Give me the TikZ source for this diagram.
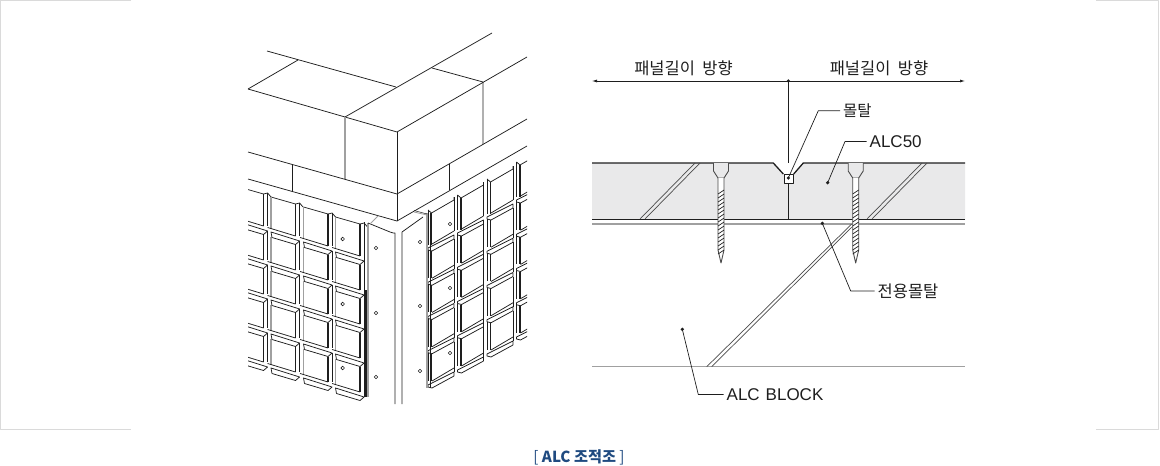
\documentclass[tikz,border=0pt]{standalone}
\usepackage{fontspec}
\setmainfont{Noto Sans CJK KR}
\newfontfamily\latinfont{Liberation Sans}
\usetikzlibrary{arrows.meta, positioning}
\definecolor{inkline}{HTML}{1E1E1E}
\definecolor{greyline}{HTML}{A0A0A0}
\definecolor{framegrey}{HTML}{DADADA}
\definecolor{panelgrey}{HTML}{E9E9EA}
\definecolor{captionblue}{HTML}{1F4A80}
\begin{document}
\begin{tikzpicture}[x=1pt, y=-1pt, line join=round,
                wall/.style={draw=inkline, line width=0.75pt},
                softline/.style={draw=greyline, line width=1.2pt},
                frameline/.style={draw=framegrey, line width=1pt},
                leader/.style={draw=inkline, line width=0.7pt},
                label/.style={inner sep=3pt, anchor=west, text=inkline, font=\fontsize{16.5}{19}\selectfont},
                leftledge/.pic={
                    \draw[wall] (0,0) -- (28.6,9) -- (24.5,12.5) -- (1,5.5) -- cycle;
                    \draw[wall] (-3.4,-4.5) -- (24.5,4);
                },
                leftbody/.pic={
                    \draw[softline] (0,4.5) -- (0,30.8);
                    \draw[wall, line width=1.1pt] (24.5,12.5) -- (24.5,38.3);
                    \draw[wall] (28.6,9) -- (28.6,38);
                },
                lefttop/.pic={
                    \draw[wall] (0,-35) -- (24.5,-28) -- (28.6,-29) -- (32,-25);
                    \draw[softline] (0,-35) -- (0,-3.5);
                    \draw[wall, line width=1.1pt] (24.5,-28) -- (24.5,4);
                    \draw[wall] (28.6,-29) -- (28.6,3.6);
                },
                rightledge/.pic={
                    \draw[wall] (0,0) -- (26,-13) -- (26,-9) -- (4,3) -- (0,2) -- cycle;
                    \draw[wall] (4,-4) -- (26,-17);
                },
                rightbody/.pic={
                    \draw[wall] (0,2) -- (0,30);
                    \draw[wall, line width=1.3pt] (3.5,3) -- (3.5,30);
                    \draw[wall] (26,-9) -- (26,21);
                },
                righttop/.pic={
                    \draw[wall] (0,-38) -- (3.5,-35) -- (26,-48) -- (26,-51);
                    \draw[wall] (0,-38) -- (0,-3);
                    \draw[wall, line width=1.3pt] (3.5,-35) -- (3.5,-3);
                    \draw[wall] (26,-51) -- (26,-17);
                },
                screw/.pic={
                    \draw[inkline!80, line width=0.9pt, fill=panelgrey] (-7.5,163) -- (-7.5,171) -- (-3,178) -- (3,178) -- (7.5,171) -- (7.5,163);
                    \draw[inkline!80, line width=0.9pt, fill=white] (-3,178) -- (-3,250) -- (0,263) -- (3,250) -- (3,178);
                    \foreach \t in {192,196,...,252} {
                        \draw[inkline, line width=0.7pt] (-3,\t+2) -- (3,\t-2);
                    }
                }]
    \useasboundingbox (0,0) rectangle (1160,466);

    % Frame corners
    \draw[frameline] (131,0.5) -- (0.5,0.5) -- (0.5,429.5) -- (131,429.5);
    \draw[frameline] (1096,0.5) -- (1158.5,0.5) -- (1158.5,429.5) -- (1096,429.5);

    % Block courses on top
    \draw[wall] (267,51) -- (396,87);
    \draw[wall] (248,89) -- (298,60);
    \draw[wall] (248,89) -- (397,132);
    \draw[wall] (345,117) -- (492,33);
    \draw[wall] (397,132) -- (527,57);
    \draw[wall] (432,68) -- (483,82) -- (483,144);
    \draw[wall] (397,132) -- (397,221);
    \draw[softline] (345,117) -- (345,179);
    \draw[wall] (248,152) -- (397,194) -- (527,119);
    \draw[wall] (292,164) -- (292,192);
    \draw[wall] (248,179) -- (397,221) -- (527,146);
    \draw[wall] (449,164) -- (449,190);

    % Left wall - tiles
    \begin{scope}
        \clip (248,150) rectangle (369,410);
        \foreach \cx/\cy in {239/222, 271/232, 303.5/242, 335.5/252} {
            \pic at (\cx,\cy) {lefttop};
            \foreach \row in {0,1,2,3} {
                \pic at (\cx,\cy+\row*34) {leftbody};
            }
            \foreach \row in {0,1,2,3,4} {
                \pic at (\cx,\cy+\row*34) {leftledge};
            }
        }
    \end{scope}
    \draw[wall] (364,222) -- (364,397);
    \draw[wall, line width=2pt] (365.5,290) -- (365.5,397);
    \draw[softline, line width=1.4pt] (368,223) -- (368,397);

    % Right wall - tiles
    \begin{scope}
        \clip (420,150) rectangle (527,410);
        \foreach \cx/\cy in {428/248, 457.5/233, 487/217, 516.5/200} {
            \pic at (\cx,\cy) {righttop};
            \foreach \row in {0,1,2,3} {
                \pic at (\cx,\cy+\row*34.25) {rightbody};
            }
            \foreach \row in {0,1,2,3,4} {
                \pic at (\cx,\cy+\row*34.25) {rightledge};
            }
        }
    \end{scope}
    \draw[softline, line width=2pt] (427,213) -- (427,388);
    \draw[wall] (430,213) -- (430,388);

    % Corner post
    \draw[wall] (368,223) -- (390,232) .. controls (392,233) and (394,233) .. (395,233) -- (395,404);
    \draw[wall] (402,404) -- (402,232) -- (423,217);
    \draw[softline, line width=0.8pt] (370,224) -- (378,216);
    \draw[softline, line width=0.8pt] (414,212) -- (427,215);
    \draw[wall, line width=0.5pt] (414,210.5) -- (427,214);

    % Rivets
    \foreach \rx/\ry in {342.7/239, 342.7/304, 342.7/368, 376/248, 376/313, 376/377, 450/224, 450/288, 450/353, 420/242, 420/306, 420/371} {
        \draw[inkline, line width=0.6pt] (\rx,\ry) circle (1.8);
    }

    % Section - panel
    \fill[panelgrey] (592,163) -- (773.3,163) -- (783.3,174) -- (793.7,174) -- (803.3,163) -- (965,163) -- (965,219.5) -- (592,219.5) -- cycle;
    \draw[inkline, line width=1.3pt] (592,163) -- (773.3,163) -- (783.3,174);
    \draw[inkline, line width=1.3pt] (793.7,174) -- (803.3,163) -- (965,163);
    \draw[softline] (592,224) -- (965,224);
    \draw[wall, line width=1pt] (592,219.5) -- (965,219.5);
    \draw[softline] (592,366.7) -- (965,366.7);

    % Section - joints
    \foreach \ax/\bx in {700/645, 695/640, 927/872, 922/867} {
        \draw[inkline!80, line width=0.7pt] (\ax,163) -- (\bx,219);
    }
    \draw[inkline!80, line width=0.7pt] (851.7,224) -- (706.7,366.7);
    \draw[inkline!80, line width=0.7pt] (855,224) -- (711.7,366.7);
    \draw[wall] (788.3,183.5) -- (788.3,219.5);

    % Section - screws
    \pic at (721,0) {screw};
    \pic at (855.7,0) {screw};

    % Section - mortar key
    \draw[inkline, line width=0.9pt, fill=white] (784,174.5) rectangle (793.2,183.5);

    % Direction arrows
    \coordinate (panelMid) at (788.3,81);
    \coordinate (panelLeft) at (592,81);
    \coordinate (panelRight) at (965,81);
    \coordinate (panelDrop) at (788.3,163);
    \draw[leader, -{Latex[length=5pt, width=3pt]}] (panelMid) -- (panelLeft);
    \draw[leader, -{Latex[length=5pt, width=3pt]}] (panelMid) -- (panelRight);
    \draw[leader] (panelMid) -- (panelDrop);
    \fill[inkline] (panelMid) circle (1.8);
    \node[label, anchor=center] (lengthLeft) at (683.5,68) {패널길이\hspace{0.45em}방향};
    \node[label, anchor=center] (lengthRight) at (879,68) {패널길이\hspace{0.45em}방향};

    % Leaders and labels
    \node[label, font=\fontsize{15.5}{18}\selectfont] (mortar) at (840,110.7) {몰탈};
    \node[label, font=\fontsize{17}{20}\selectfont] (alcPanel) at (866.5,141.5) {\latinfont ALC50};
    \node[label] (specialMortar) at (874.5,291) {전용몰탈};
    \node[label, font=\fontsize{17}{20}\selectfont] (alcBlock) at (723.5,394.5) {\latinfont ALC\hspace{0.35em}BLOCK};

    \coordinate (mortarDot) at (788.3,178);
    \coordinate (mortarBend) at (818.3,110.7);
    \coordinate (alcPanelDot) at (827.7,182.7);
    \coordinate (alcPanelBend) at (845,141.5);
    \coordinate (specialDot) at (822.3,223.3);
    \coordinate (specialBend) at (850.7,291);
    \coordinate (blockDot) at (682.3,329.3);
    \coordinate (blockBend) at (698.3,394.5);

    \draw[leader] (mortarDot) -- (mortarBend) -- (mortar.west);
    \draw[leader] (alcPanelDot) -- (alcPanelBend) -- (alcPanel.west);
    \draw[leader] (specialDot) -- (specialBend) -- (specialMortar.west);
    \draw[leader] (blockDot) -- (blockBend) -- (alcBlock.west);
    \foreach \d in {mortarDot, alcPanelDot, specialDot, blockDot} {
        \fill[inkline] (\d) circle (1.8);
    }

    % Caption
    \node[text=captionblue, font=\fontsize{15.2}{18}\selectfont] (caption) at (579,457) {[ \textbf{ALC 조적조} ]};
\end{tikzpicture}
\end{document}
